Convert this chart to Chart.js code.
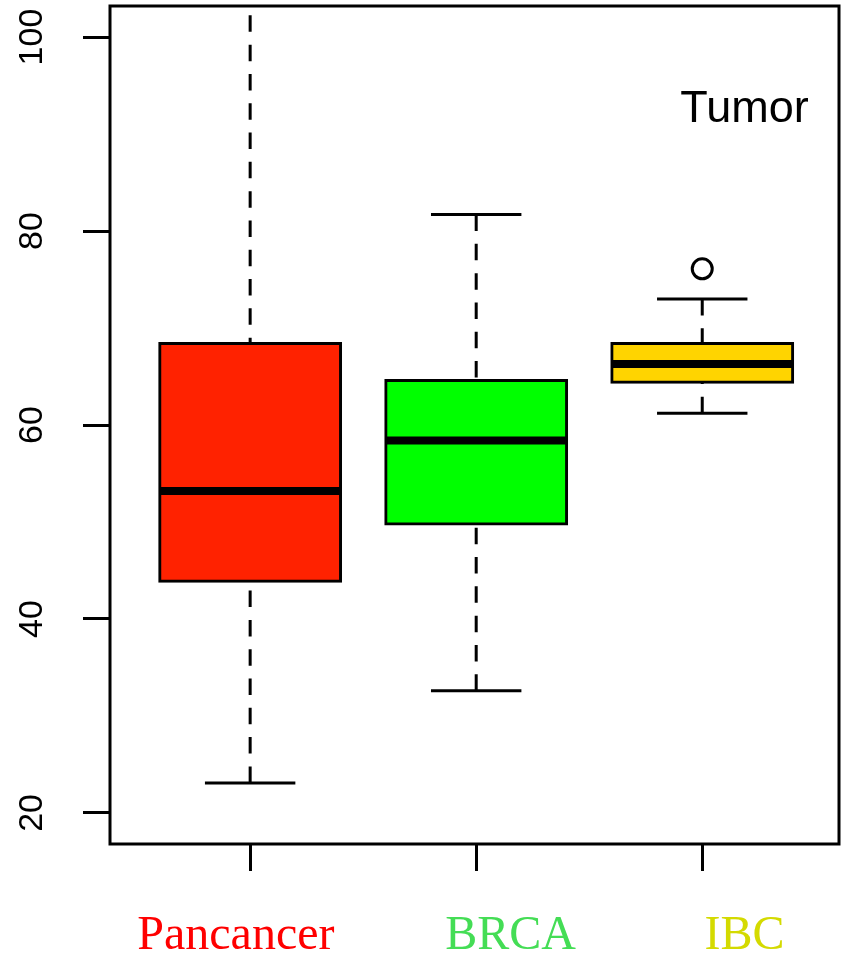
<!DOCTYPE html>
<html><head><meta charset="utf-8">
<script src="https://cdn.jsdelivr.net/npm/chart.js@4"></script>
<style>html,body{margin:0;padding:0;background:#fff}canvas{display:block}</style>
</head><body>
<canvas id="c" width="848" height="956"></canvas>
<script>
const categories = ['Pancancer', 'BRCA', 'IBC'];
const whiskerLow = [23.1, 32.6, 61.2];
const q1 = [43.9, 49.8, 64.4];
const medians = [53.2, 58.4, 66.3];
const q3 = [68.4, 64.6, 68.4];
const whiskerHigh = [111.3, 81.7, 73.0];
const outliers = [[], [], [76.1]];
const yTicks = [20, 40, 60, 80, 100];
const boxColors = ['#FF2200', '#00FF00', '#FFD400'];
const labelColors = ['#FF0000', '#44DD55', '#D4DA00'];
const panelLabel = 'Tumor';

const positions = categories.map((_, i) => i + 1);
const outlierPoints = [];
outliers.forEach((arr, i) => arr.forEach(v => outlierPoints.push({ x: positions[i], y: v })));

const extras = {
  id: 'boxExtras',
  beforeDatasetsDraw(chart) {
    const { ctx, chartArea: a, scales: { x, y } } = chart;
    ctx.save();
    ctx.beginPath(); ctx.rect(a.left, a.top, a.right - a.left, a.bottom - a.top); ctx.clip();
    ctx.strokeStyle = '#000'; ctx.lineWidth = 3; ctx.lineCap = 'butt';
    positions.forEach((p, i) => {
      const px = x.getPixelForValue(p);
      ctx.setLineDash([16.5, 12.8]);
      ctx.beginPath(); ctx.moveTo(px, y.getPixelForValue(whiskerHigh[i])); ctx.lineTo(px, y.getPixelForValue(q3[i])); ctx.stroke();
      ctx.beginPath(); ctx.moveTo(px, y.getPixelForValue(whiskerLow[i])); ctx.lineTo(px, y.getPixelForValue(q1[i])); ctx.stroke();
      ctx.setLineDash([]);
      const c0 = x.getPixelForValue(p - 0.2), c1 = x.getPixelForValue(p + 0.2);
      [whiskerHigh[i], whiskerLow[i]].forEach(v => {
        const py = y.getPixelForValue(v);
        ctx.beginPath(); ctx.moveTo(c0, py); ctx.lineTo(c1, py); ctx.stroke();
      });
    });
    ctx.restore();
  },
  afterDatasetsDraw(chart, args, opts) {
    const { ctx, chartArea: a, scales: { x, y } } = chart;
    ctx.save();
    ctx.strokeStyle = '#000'; ctx.lineCap = 'butt';
    ctx.lineWidth = 8;
    positions.forEach((p, i) => {
      const py = y.getPixelForValue(medians[i]);
      ctx.beginPath(); ctx.moveTo(x.getPixelForValue(p - 0.4), py); ctx.lineTo(x.getPixelForValue(p + 0.4), py); ctx.stroke();
    });
    ctx.lineWidth = 3;
    ctx.strokeRect(a.left, a.top, a.right - a.left, a.bottom - a.top);
    ctx.fillStyle = '#000';
    ctx.font = '45px "Liberation Sans", Arial, sans-serif';
    ctx.textAlign = 'center'; ctx.textBaseline = 'alphabetic';
    ctx.fillText(panelLabel, x.getPixelForValue(opts.panelX), y.getPixelForValue(opts.panelY));
    // category labels below the axis
    ctx.font = '48px "Liberation Serif", "Times New Roman", serif';
    categories.forEach((c, i) => {
      ctx.fillStyle = labelColors[i];
      ctx.fillText(c, x.getPixelForValue(opts.labelX[i]), opts.labelBaseline);
    });
    ctx.restore();
  }
};

new Chart(document.getElementById('c'), {
  type: 'bar',
  data: {
    datasets: [
      {
        type: 'bar',
        data: positions.map((p, i) => ({ x: p, y: [q1[i], q3[i]] })),
        backgroundColor: boxColors,
        borderColor: '#000',
        borderWidth: 3,
        borderSkipped: false,
        inflateAmount: 1.5,
        barPercentage: 0.8,
        categoryPercentage: 1.0
      },
      {
        type: 'scatter',
        data: outlierPoints,
        pointRadius: 10,
        borderWidth: 3,
        borderColor: '#000',
        backgroundColor: 'rgba(0,0,0,0)'
      }
    ]
  },
  options: {
    responsive: false,
    animation: false,
    devicePixelRatio: 1,
    events: [],
    layout: { autoPadding: false, padding: { top: 6, right: 9, left: 0, bottom: 0 } },
    plugins: {
      legend: { display: false }, tooltip: { enabled: false },
      boxExtras: { panelX: 3.187, panelY: 91.2, labelX: [0.937, 2.152, 3.187], labelBaseline: 949 }
    },
    scales: {
      x: {
        type: 'linear', min: 0.38, max: 3.605, offset: false,
        afterBuildTicks: s => { s.ticks = positions.map(v => ({ value: v })); },
        afterFit: s => { s.height = 112; s.paddingLeft = 0; s.paddingRight = 0; },
        ticks: { display: false, autoSkip: false },
        grid: { offset: false, drawOnChartArea: false, drawTicks: true, tickLength: 27, color: '#000', lineWidth: 3 },
        border: { display: false }
      },
      y: {
        type: 'linear', min: 16.8, max: 103.2,
        afterBuildTicks: s => { s.ticks = yTicks.map(v => ({ value: v })); },
        afterFit: s => { s.width = 110; s.paddingTop = 0; s.paddingBottom = 0; },
        ticks: {
          autoSkip: false, minRotation: 90, maxRotation: 90, crossAlign: 'center', padding: 22,
          color: '#000',
          font: { family: '"Liberation Sans", Arial, sans-serif', size: 34 }
        },
        grid: { drawOnChartArea: false, drawTicks: true, tickLength: 27, color: '#000', lineWidth: 3 },
        border: { display: false }
      }
    }
  },
  plugins: [extras]
});
</script>
</body></html>
